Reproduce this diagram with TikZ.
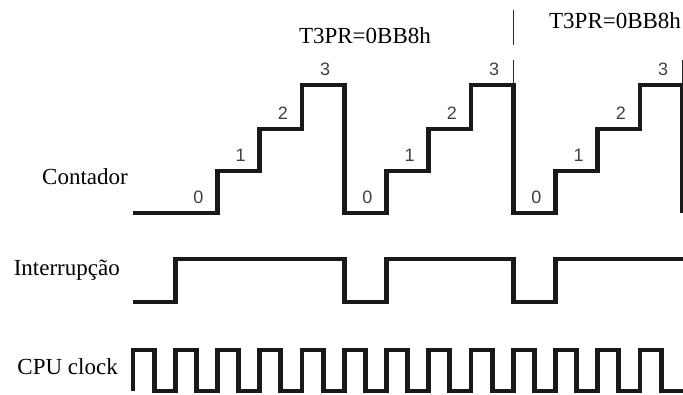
\documentclass[tikz,border=0pt]{standalone}
\usepackage{fontspec}
\setmainfont{Liberation Serif}
\newfontfamily\digitfont{Liberation Sans}
\usepackage{xcolor}
\usepackage{tikz}

\begin{document}
\begin{tikzpicture}[x=42.25pt, y=1pt,
  wave/.style={line width=4.8pt, black!90},
  lbl/.style={font=\fontsize{23}{27}\selectfont, inner sep=0pt},
  cnt/.style={font=\digitfont\fontsize{18}{21}\selectfont, black!75, inner sep=0pt}]
  \useasboundingbox (-133pt,0pt) rectangle (550pt,394pt);
  % Signal names
  \node[lbl, anchor=east] (contador) at (-5pt,217pt) {Contador};
  \node[lbl, anchor=east] (interrup) at (-13pt,124pt) {Interrupção};
  \node[lbl, anchor=east] (clock) at (-15pt,27pt) {CPU clock};
  % Counter (0..3)
  \draw[wave] plot coordinates {(0,181) (2,181) (2,223) (3,223) (3,265) (4,265) (4,309) (5,309)
    (5,181) (6,181) (6,223) (7,223) (7,265) (8,265) (8,309) (9,309)
    (9,181) (10,181) (10,223) (11,223) (11,265) (12,265) (12,309) (13,309) (13,181)};
  % Counter values
  \foreach \s in {1,5,9} {
    \foreach \i/\y in {0/181, 1/223, 2/265, 3/309} {
      \node[cnt] (v\s\i) at (\s+\i+0.55,\y+16) {\i};
    }
  }
  % Period marks
  \draw[line width=1.2pt, black!85] (9,384) -- (9,349);
  \draw[line width=1.2pt, black!85] (9,334) -- (9,309);
  \draw[line width=1.2pt, black!85] (13,334) -- (13,309);
  \node[lbl] (per1) at (5.49,358) {T3PR=0BB8h};
  \node[lbl] (per2) at (11.41,373) {T3PR=0BB8h};
  % Interrupt
  \draw[wave] plot coordinates {(0,92) (1,92) (1,135) (5,135) (5,92) (6,92) (6,135)
    (9,135) (9,92) (10,92) (10,135) (13.2,135)};
  % CPU clock
  \draw[wave] (0,3) \foreach \k in {0,...,12} { -- (\k,44) -- (\k+0.5,44) -- (\k+0.5,3) -- (\k+1,3) } -- (13.2,3);
\end{tikzpicture}
\end{document}
